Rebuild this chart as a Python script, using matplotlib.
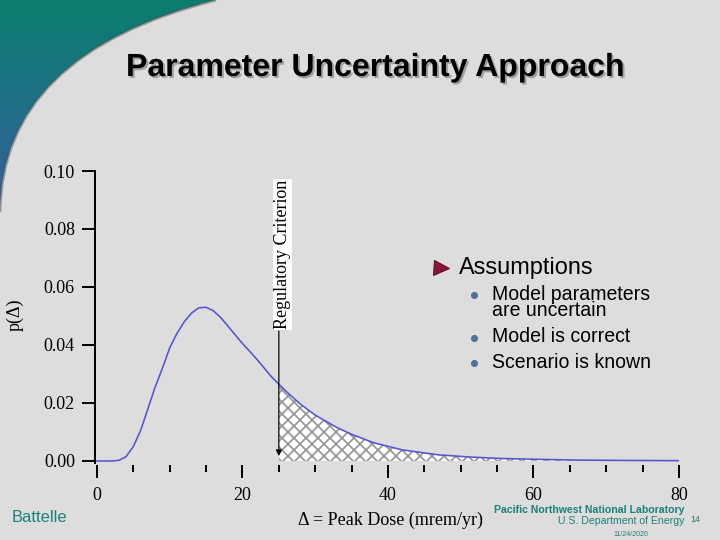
import numpy as np
import matplotlib
matplotlib.use("Agg")
import matplotlib.pyplot as plt
import matplotlib.patheffects as pe
from matplotlib.path import Path
from matplotlib.patches import PathPatch
from matplotlib.colors import LinearSegmentedColormap
from matplotlib.ticker import MultipleLocator, FormatStrFormatter

# peak dose (mrem/yr) and probability density
dose = [0, 2, 3, 4, 5, 6, 7, 8, 9, 10, 11, 12, 13, 14, 15, 16, 17, 18, 19, 20,
        21, 22, 23, 24, 25, 26, 28, 30, 33, 35, 38, 42, 47, 51, 55, 60, 66, 72, 80]
density = [0, 0, 0.0002, 0.0015, 0.005, 0.0105, 0.018, 0.0255, 0.032, 0.039,
           0.044, 0.048, 0.051, 0.0528, 0.053, 0.0518, 0.0495, 0.0465, 0.0435, 0.0405,
           0.0378, 0.035, 0.032, 0.029, 0.0265, 0.024, 0.0195, 0.0158, 0.0115, 0.0092,
           0.0063, 0.0038, 0.0021, 0.0014, 0.0009, 0.0006, 0.0003, 0.0002, 0.0001]
criterion = 25
y_ticks = [0.00, 0.02, 0.04, 0.06, 0.08, 0.10]
x_ticks = [0, 20, 40, 60, 80]
bullets = ["Model parameters\nare uncertain", "Model is correct", "Scenario is known"]

SERIF = "Liberation Serif"
SANS = "Liberation Sans"
TEAL = "#1b8278"

fig = plt.figure(figsize=(10, 7.5), dpi=72, facecolor="#dddddd")

# slide decoration layer, pixel coordinates
bg = fig.add_axes([0, 0, 1, 1], zorder=0)
bg.set_xlim(0, 720)
bg.set_ylim(540, 0)
bg.axis("off")
corner = Path([(0, 0), (216, 0), (2, 54), (0, 212), (0, 0)],
              [Path.MOVETO, Path.LINETO, Path.CURVE3, Path.CURVE3, Path.CLOSEPOLY])
patch = PathPatch(corner, facecolor="none", edgecolor="none")
bg.add_patch(patch)
grad = np.linspace(0, 1, 256).reshape(-1, 1)
cmap = LinearSegmentedColormap.from_list("slide", ["#0a7d6c", "#1f6f86", "#3b5c9e"])
im = bg.imshow(grad, extent=(0, 220, 215, 0), cmap=cmap, aspect="auto", zorder=1)
im.set_clip_path(patch)
edge = Path([(216, 0), (2, 54), (0, 212)], [Path.MOVETO, Path.CURVE3, Path.CURVE3])
bg.add_patch(PathPatch(edge, facecolor="none", edgecolor="#555555", lw=3, alpha=0.45, zorder=2))

bg.text(375, 68, "Parameter Uncertainty Approach", fontsize=32, fontweight="bold",
        family=SANS, ha="center", va="center",
        path_effects=[pe.SimplePatchShadow(offset=(2, -2), shadow_rgbFace="#999999", alpha=0.9),
                      pe.Normal()])

bg.plot(441, 268, marker=">", ms=15, color="#8c1538", mec="#5a0a20", zorder=3)
bg.text(459, 268, "Assumptions", fontsize=23.5, family=SANS, va="center")
for yy, txt in zip([295, 338, 363], bullets):
    bg.plot(474, yy, marker="o", ms=6, color="#50709c", zorder=3)
    bg.text(492, yy - 10.5, txt, fontsize=19.5, family=SANS, va="top", linespacing=0.8)

bg.text(12, 518, "Battelle", fontsize=16.5, family=SANS, color=TEAL, va="center")
bg.text(684, 510, "Pacific Northwest National Laboratory", fontsize=10.5, fontweight="bold",
        family=SANS, color=TEAL, ha="right", va="center")
bg.text(684, 521, "U.S. Department of Energy", fontsize=10.5,
        family=SANS, color=TEAL, ha="right", va="center")
bg.text(690, 520, "14", fontsize=9, family=SANS, color="#2a7a78", va="center")
bg.text(631, 534, "11/24/2020", fontsize=7, family=SANS, color="#2a7a78", ha="center", va="center")

# the chart
ax = fig.add_axes([95 / 720, 1 - 463 / 540, 584 / 720, 292 / 540], zorder=1)
ax.set_facecolor("none")
ax.set_xlim(-0.27, 80)
ax.set_ylim(-0.0007, 0.10)

plt.rcParams["hatch.linewidth"] = 1.7
dose_a = np.array(dose)
dens_a = np.array(density)
tail = dose_a >= criterion
ax.fill_between(dose_a[tail], dens_a[tail], 0, facecolor="white", edgecolor="#959595",
                hatch="xx", linewidth=0, zorder=1)
ax.plot(dose, density, color="#5454d2", lw=1.6, zorder=3)

ax.annotate("", xy=(criterion, 0.001), xytext=(criterion, 0.0455),
            arrowprops=dict(arrowstyle="-|>", color="black", lw=1.2, mutation_scale=12), zorder=4)
ax.text(criterion + 0.5, 0.0455, "Regulatory Criterion", rotation=90, fontsize=18, family=SERIF,
        ha="center", va="bottom", zorder=5,
        bbox=dict(facecolor="white", edgecolor="none", pad=0.5))

for side in ["top", "right"]:
    ax.spines[side].set_visible(False)
ax.spines["bottom"].set_position(("outward", 2))
ax.spines["bottom"].set_visible(False)
ax.spines["left"].set_linewidth(2)

ax.set_yticks(y_ticks)
ax.yaxis.set_major_formatter(FormatStrFormatter("%.2f"))
ax.set_xticks(x_ticks)
ax.xaxis.set_minor_locator(MultipleLocator(5))
ax.tick_params(axis="y", length=13, width=2, pad=7, labelsize=18)
ax.tick_params(axis="x", which="major", length=13, width=2, pad=9, labelsize=18)
ax.tick_params(axis="x", which="minor", length=7, width=2)
for lab in ax.get_xticklabels() + ax.get_yticklabels():
    lab.set_family(SERIF)

fig.text(15 / 720, 1 - 315 / 540, "p(Δ)", rotation=90, fontsize=18, family=SERIF,
         ha="center", va="center")
fig.text(390 / 720, 1 - 520 / 540, "Δ = Peak Dose (mrem/yr)", fontsize=18, family=SERIF,
         ha="center", va="center")

fig.savefig("out.png", dpi=72, facecolor=fig.get_facecolor())
